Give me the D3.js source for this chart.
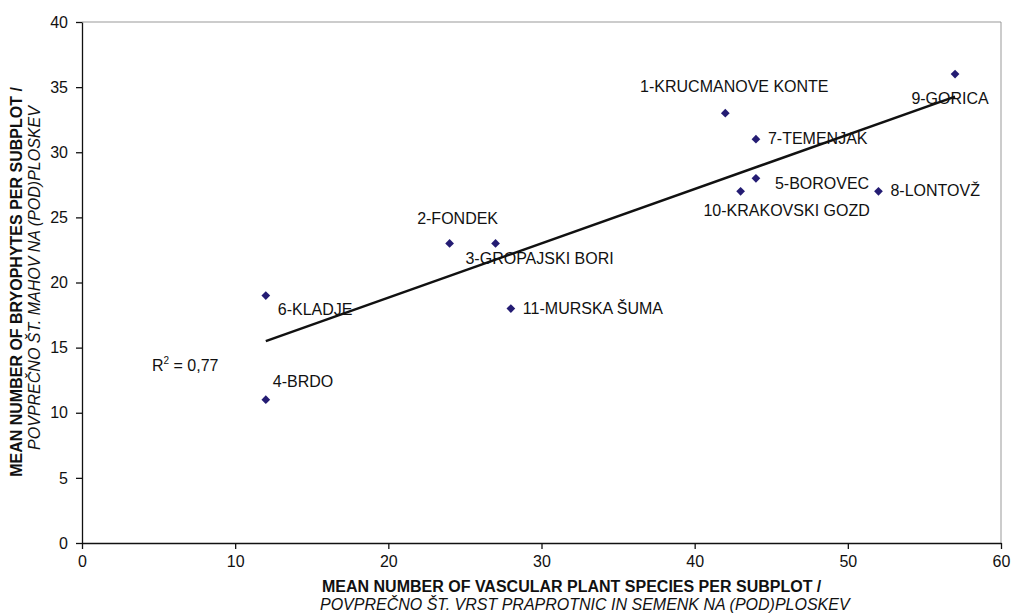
<!DOCTYPE html>
<html><head><meta charset="utf-8">
<script src="https://cdn.jsdelivr.net/npm/d3@7"></script>
<style>body{margin:0;background:#fff;} text{font-family:"Liberation Sans",Arial,sans-serif;fill:#111;}</style>
</head><body><svg id="c" width="1012" height="615"></svg>
<script>
const sites = ["1-KRUCMANOVE KONTE","2-FONDEK","3-GROPAJSKI BORI","4-BRDO","5-BOROVEC","6-KLADJE","7-TEMENJAK","8-LONTOVŽ","9-GORICA","10-KRAKOVSKI GOZD","11-MURSKA ŠUMA"];
const vascular = [42,24,27,12,44,12,44,52,57,43,28];
const bryophytes = [33,23,23,11,28,19,31,27,36,27,18];
const xTicks = [0,10,20,30,40,50,60];
const yTicks = [0,5,10,15,20,25,30,35,40];
const labelPos = [[9,-21,"middle"],[8,-19,"middle"],[44,21,"middle"],[7,-13,"start"],[19,11,"start"],[12,19,"start"],[12,5,"start"],[12,5,"start"],[-5,30,"middle"],[46,25,"middle"],[12,5,"start"]];

const svg = d3.select("#c");
const L=82,R=1001,T=22,B=543;
const FS=16;
const x = d3.scaleLinear().domain([0,60]).range([L,R]);
const y = d3.scaleLinear().domain([0,40]).range([B,T]);

svg.append("path").attr("d",`M${L},${T}H${R}V${B}`).attr("fill","none").attr("stroke","#999").attr("stroke-width",1);

const xa = svg.append("g").attr("transform",`translate(0,${B})`).call(d3.axisBottom(x).tickValues(xTicks).tickSize(6).tickSizeOuter(0).tickPadding(7));
const ya = svg.append("g").attr("transform",`translate(${L},0)`).call(d3.axisLeft(y).tickValues(yTicks).tickSize(6).tickSizeOuter(0).tickPadding(8));
[xa,ya].forEach(a=>{a.selectAll("path,line").attr("stroke","#111").attr("stroke-width",1.3);a.selectAll("text").attr("font-size",FS).attr("font-family","Liberation Sans, Arial, sans-serif").attr("fill","#111");});

const n=vascular.length, mx=d3.mean(vascular), my=d3.mean(bryophytes);
let sxy=0,sxx=0; for(let i=0;i<n;i++){sxy+=(vascular[i]-mx)*(bryophytes[i]-my);sxx+=(vascular[i]-mx)**2;}
const b=sxy/sxx, a=my-b*mx;
const x0=d3.min(vascular), x1=d3.max(vascular);
svg.append("line").attr("x1",x(x0)).attr("y1",y(a+b*x0)).attr("x2",x(x1)).attr("y2",y(a+b*x1)).attr("stroke","#111").attr("stroke-width",2.5);

svg.selectAll(".pt").data(sites).enter().append("path")
 .attr("d",d3.symbol().type(d3.symbolSquare).size(38))
 .attr("transform",(d,i)=>`translate(${x(vascular[i])},${y(bryophytes[i])}) rotate(45)`)
 .attr("fill","#241c73");

svg.selectAll(".lb").data(sites).enter().append("text")
 .attr("x",(d,i)=>x(vascular[i])+labelPos[i][0])
 .attr("y",(d,i)=>y(bryophytes[i])+labelPos[i][1])
 .attr("text-anchor",(d,i)=>labelPos[i][2])
 .attr("font-size",FS).text(d=>d);

const r2 = svg.append("text").attr("x",152).attr("y",371).attr("font-size",FS);
r2.append("tspan").text("R");
r2.append("tspan").attr("dy",-7).attr("font-size",10).text("2");
r2.append("tspan").attr("dy",7).text(" = 0,77");

const xt = svg.append("g");
xt.append("text").attr("x",322).attr("y",592).attr("font-size",16).attr("font-weight","bold").text("MEAN NUMBER OF VASCULAR PLANT SPECIES PER SUBPLOT /");
xt.append("text").attr("x",320).attr("y",610).attr("font-size",FS).attr("font-style","italic").text("POVPREČNO ŠT. VRST PRAPROTNIC IN SEMENK NA (POD)PLOSKEV");
const yt = svg.append("g");
yt.append("text").attr("transform","translate(22,282) rotate(-90)").attr("text-anchor","middle").attr("font-size",16).attr("font-weight","bold").text("MEAN NUMBER OF BRYOPHYTES PER SUBPLOT /");
yt.append("text").attr("transform","translate(40,278) rotate(-90)").attr("text-anchor","middle").attr("font-size",FS).attr("font-style","italic").text("POVPREČNO ŠT. MAHOV NA (POD)PLOSKEV");
</script></body></html>
